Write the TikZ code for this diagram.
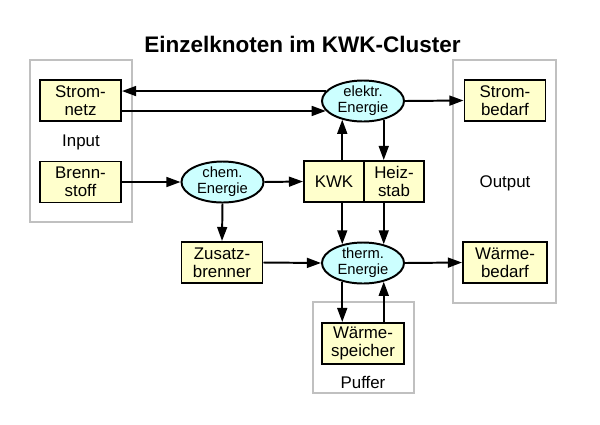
\documentclass[tikz,border=0pt]{standalone}
\usepackage{fontspec}
\setmainfont{Liberation Sans}
\usetikzlibrary{arrows.meta,shapes.geometric}
\definecolor{boxyellow}{RGB}{255,255,204}
\definecolor{energycyan}{RGB}{204,255,255}
\definecolor{framegray}{RGB}{192,192,192}
\tikzset{
  block/.style={draw,line width=1.4pt,fill=boxyellow,minimum width=2.025cm,minimum height=1.025cm,inner sep=1pt,align=center,font=\fontsize{12}{13}\selectfont},
  energy/.style={ellipse,draw,line width=1.4pt,fill=energycyan,minimum width=2.05cm,minimum height=1.025cm,inner sep=0pt},
  energytext/.style={align=center,font=\fontsize{10.5}{11.5}\selectfont},
  cluster/.style={draw=framegray,line width=1.4pt},
  clustertext/.style={font=\fontsize{12}{13}\selectfont},
  flow/.style={->,line width=1.4pt},
  >={Triangle[length=10pt,width=7pt]}
}
\begin{document}
\begin{tikzpicture}[x=0.025cm,y=-0.025cm]
\useasboundingbox (0,0) rectangle (600,424);
\node[font=\fontsize{16}{19}\selectfont\bfseries] (title) at (302.5,44) {Einzelknoten im KWK-Cluster};

% groups
\draw[cluster] (30,60) rectangle (132,222);
\draw[cluster] (453,60) rectangle (556,303);
\draw[cluster] (313,302) rectangle (414,393);
\node[clustertext] (input) at (81,142) {Input};
\node[clustertext] (output) at (505,183) {Output};
\node[clustertext] (puffer) at (363,382) {Puffer};

% blocks
\node[block] (netz) at (80.5,100.5) {Strom-\\netz};
\node[block] (brenn) at (80.5,182) {Brenn-\\stoff};
\node[block,minimum width=1.5cm] (kwk) at (334,181.5) {KWK};
\node[block,minimum width=1.5cm] (heiz) at (394,181.5) {Heiz-\\stab};
\node[block] (sbedarf) at (505,100.5) {Strom-\\bedarf};
\node[block] (zusatz) at (222,262.5) {Zusatz-\\brenner};
\node[block,minimum width=2.1cm] (wbedarf) at (505,262.5) {Wärme-\\bedarf};
\node[block,minimum width=2.05cm] (speicher) at (363,343.5) {Wärme-\\speicher};

% energy carriers
\node[energy,label={[energytext]center:{chem.\\Energie}}] (chem) at (222.5,182) {};
\node[energy,label={[energytext]center:{elektr.\\Energie}}] (elek) at (363,101) {};
\node[energy,label={[energytext]center:{therm.\\Energie}}] (therm) at (363,263) {};

% flows
\draw[flow] (elek.165) -- (elek.165 -| netz.east);
\draw[flow] (elek.195 -| netz.east) -- (elek.195);
\draw[flow] (elek.east) -- (sbedarf.west);
\draw[flow] (brenn.east) -- (chem.west);
\draw[flow] (chem.east) -- (kwk.west);
\draw[flow] (chem.south) -- (zusatz.north);
\draw[flow] (elek.222 |- kwk.north) -- (elek.222);
\draw[flow] (elek.318) -- (elek.318 |- heiz.north);
\draw[flow] (therm.138 |- kwk.south) -- (therm.138);
\draw[flow] (therm.42 |- heiz.south) -- (therm.42);
\draw[flow] (zusatz.east) -- (therm.west);
\draw[flow] (therm.east) -- (wbedarf.west);
\draw[flow] (therm.222) -- (therm.222 |- speicher.north);
\draw[flow] (therm.318 |- speicher.north) -- (therm.318);
\end{tikzpicture}
\end{document}
